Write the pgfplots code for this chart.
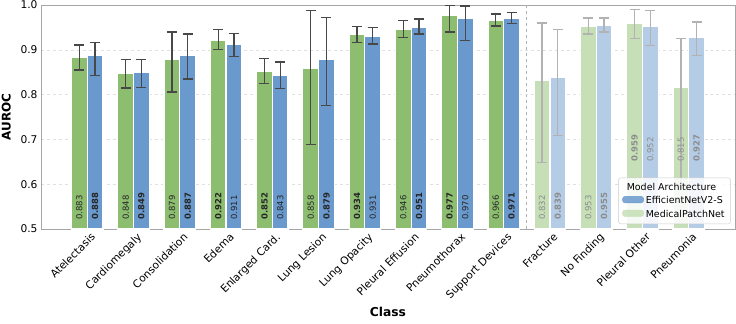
\documentclass[border=0pt]{standalone}
\usepackage{pgfplots}
\usepackage{pgfplotstable}
\usepackage{fontspec}
\setmainfont{DejaVu Sans}
\pgfplotsset{compat=1.18}

\definecolor{mpgreen}{RGB}{141,190,112}
\definecolor{effblue}{RGB}{106,153,206}
\definecolor{errgray}{RGB}{72,72,72}

% x: class index; g/b: AUROC of MedicalPatchNet / EfficientNetV2-S
% gb/bb: 1 = better of the pair (bold label); lo/hi: confidence interval
% ly: height at which the value labels start
\pgfplotstableread{
x g gb glo ghi b bb blo bhi ly
0 0.883 0 0.855 0.911 0.888 1 0.842 0.916 0.52
1 0.848 0 0.815 0.879 0.849 1 0.816 0.879 0.52
2 0.879 0 0.806 0.940 0.887 1 0.835 0.935 0.52
3 0.922 1 0.900 0.946 0.911 0 0.885 0.937 0.52
4 0.852 1 0.824 0.881 0.843 0 0.814 0.873 0.52
5 0.858 0 0.688 0.987 0.879 1 0.775 0.972 0.52
6 0.934 1 0.916 0.952 0.931 0 0.913 0.950 0.52
7 0.946 0 0.927 0.966 0.951 1 0.935 0.969 0.52
8 0.977 1 0.940 0.999 0.970 0 0.921 0.998 0.52
9 0.966 0 0.953 0.980 0.971 1 0.958 0.984 0.52
}\core

% rare classes, drawn faded
\pgfplotstableread{
x g gb glo ghi b bb blo bhi ly
10 0.832 0 0.649 0.960 0.839 1 0.709 0.946 0.52
11 0.953 0 0.935 0.971 0.955 1 0.940 0.971 0.52
12 0.959 1 0.925 0.990 0.952 0 0.910 0.988 0.65
13 0.815 0 0.600 0.925 0.927 1 0.888 0.962 0.65
}\rare

\pgfplotsset{
  barstyle/.style={ybar, bar width=0.34, bar shift=0pt, draw=white, line width=1.2bp, forget plot,
    /pgfplots/error bars/y dir=both, /pgfplots/error bars/y explicit,
    /pgfplots/error bars/error bar style={#1, line width=1.3bp},
    /pgfplots/error bars/error mark options={#1, rotate=90, mark size=5bp, line width=1.3bp}},
  valuelabels/.style={draw=none, mark=none, forget plot,
    nodes near coords={\ifdim\isbold pt>0.5pt\bfseries\fi\pgfmathprintnumber[fixed,fixed zerofill,precision=3]{\pgfplotspointmeta}},
    nodes near coords style={rotate=90, anchor=west, inner sep=0pt, text=#1, font=\fontsize{8.5}{10}\selectfont}},
  patch/.style={legend image code/.code={\fill[#1] (0bp,-2bp) rectangle (21bp,4.5bp);}},
}

\begin{document}
\begin{tikzpicture}
\begin{axis}[
  scale only axis, width=694bp, height=224bp,
  xmin=-1, xmax=14, ymin=0.5, ymax=1.0,
  axis line style={black!35, line width=0.8bp},
  ymajorgrids, grid style={dashed, black!12, line width=0.6bp},
  major tick length=0pt,
  /pgf/number format/assume math mode=true,
  xtick={0,...,13},
  xticklabels={Atelectasis, Cardiomegaly, Consolidation, Edema, Enlarged Card., Lung Lesion, Lung Opacity, Pleural Effusion, Pneumothorax, Support Devices, Fracture, No Finding, Pleural Other, Pneumonia},
  xticklabel style={rotate=45, anchor=north east, inner sep=0pt, yshift=-4bp, font=\fontsize{10.7}{12}\selectfont},
  ytick={0.5,0.6,0.7,0.8,0.9,1.0},
  yticklabel style={font=\fontsize{10.7}{12}\selectfont, /pgf/number format/fixed, /pgf/number format/fixed zerofill, /pgf/number format/precision=1},
  xlabel={\bfseries Class}, ylabel={\bfseries AUROC},
  xlabel style={at={(axis description cs:0.5,-0.37)}, anchor=center, font=\fontsize{12.3}{14}\selectfont},
  ylabel style={at={(axis description cs:-0.05,0.5)}, anchor=center, font=\fontsize{12}{14}\selectfont},
  legend style={at={(0.994,0.022)}, anchor=south east, draw=black!20, rounded corners=2.5bp,
    fill=white, fill opacity=0.85, text opacity=1, font=\fontsize{9.5}{11}\selectfont,
    inner xsep=4bp, inner ysep=3bp, row sep=1bp},
  legend cell align=left,
]
% separator between frequent and rare classes
\addplot[dashed, black!30, line width=0.7bp, forget plot] coordinates {(9.5,0.5) (9.5,1.0)};

% frequent classes
\addplot[barstyle=errgray, fill=mpgreen] table[x expr=\thisrow{x}-0.17, y=g,
  y error plus expr=\thisrow{ghi}-\thisrow{g}, y error minus expr=\thisrow{g}-\thisrow{glo}] {\core};
\addplot[barstyle=errgray, fill=effblue] table[x expr=\thisrow{x}+0.17, y=b,
  y error plus expr=\thisrow{bhi}-\thisrow{b}, y error minus expr=\thisrow{b}-\thisrow{blo}] {\core};

% rare classes
\addplot[barstyle=black!30, fill=mpgreen!50!white] table[x expr=\thisrow{x}-0.17, y=g,
  y error plus expr=\thisrow{ghi}-\thisrow{g}, y error minus expr=\thisrow{g}-\thisrow{glo}] {\rare};
\addplot[barstyle=black!30, fill=effblue!50!white] table[x expr=\thisrow{x}+0.17, y=b,
  y error plus expr=\thisrow{bhi}-\thisrow{b}, y error minus expr=\thisrow{b}-\thisrow{blo}] {\rare};

% value labels inside the bars
\addplot[valuelabels=black!85, point meta=\thisrow{g}, visualization depends on={\thisrow{gb}\as\isbold}]
  table[x expr=\thisrow{x}-0.17, y=ly] {\core};
\addplot[valuelabels=black!85, point meta=\thisrow{b}, visualization depends on={\thisrow{bb}\as\isbold}]
  table[x expr=\thisrow{x}+0.17, y=ly] {\core};
\addplot[valuelabels=black!45, point meta=\thisrow{g}, visualization depends on={\thisrow{gb}\as\isbold}]
  table[x expr=\thisrow{x}-0.17, y=ly] {\rare};
\addplot[valuelabels=black!45, point meta=\thisrow{b}, visualization depends on={\thisrow{bb}\as\isbold}]
  table[x expr=\thisrow{x}+0.17, y=ly] {\rare};

\addlegendimage{empty legend}
\addlegendentry{\hspace*{-19bp}Model Architecture}
\addlegendimage{patch=effblue}
\addlegendentry{EfficientNetV2-S}
\addlegendimage{patch=mpgreen!50!white}
\addlegendentry{MedicalPatchNet}
\end{axis}
\pgfresetboundingbox
\path[use as bounding box] ([xshift=-41bp,yshift=-95bp]current axis.south west)
  rectangle ([xshift=1bp,yshift=5bp]current axis.north east);
\end{tikzpicture}
\end{document}
